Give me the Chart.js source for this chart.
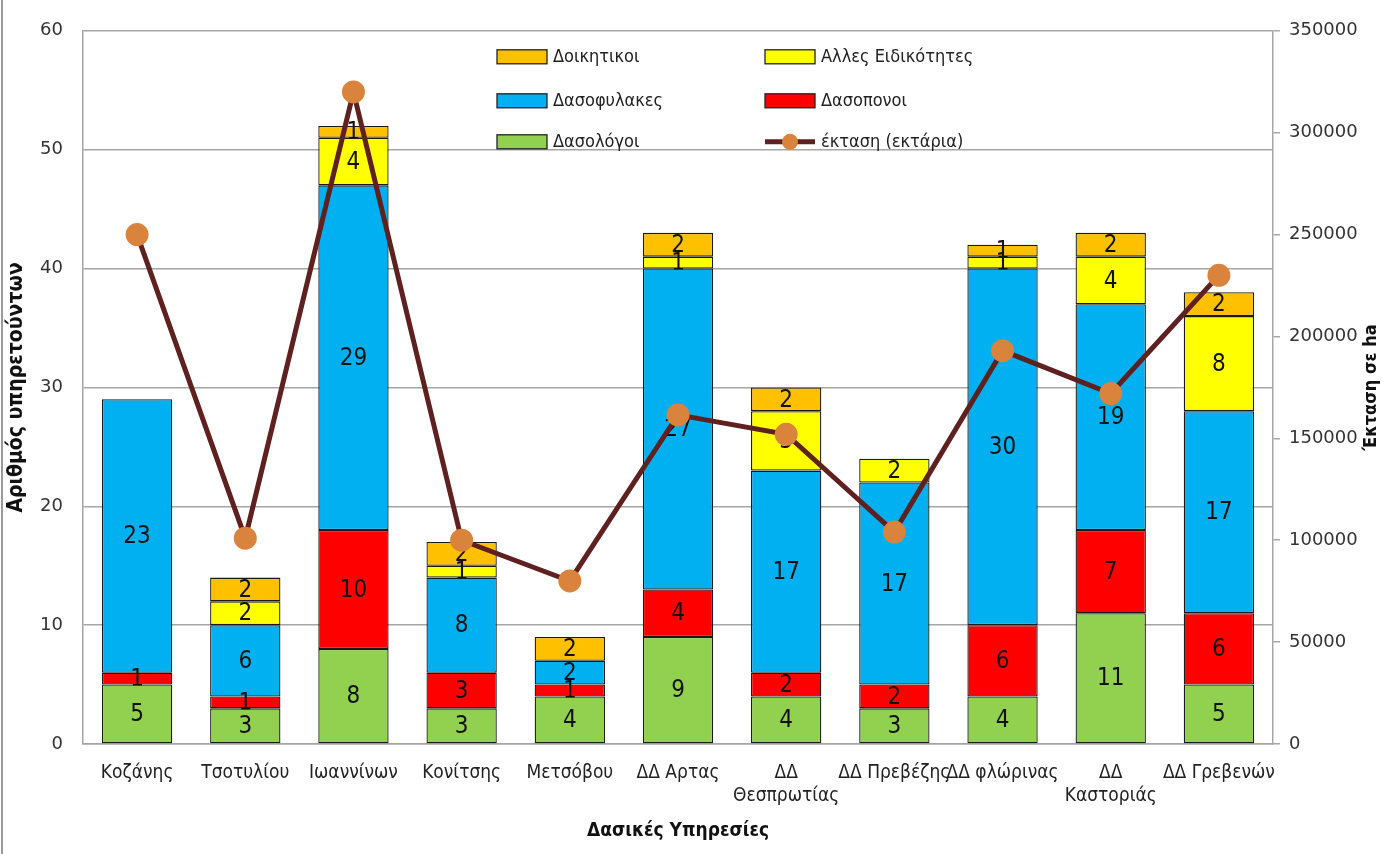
<!DOCTYPE html>
<html>
<head>
<meta charset="utf-8">
<script src="https://cdn.jsdelivr.net/npm/chart.js@4.4.0/dist/chart.umd.min.js"></script>
<style>
  html, body { margin: 0; padding: 0; background: #fff; }
  #wrap { position: relative; width: 1383px; height: 854px; }
  #wrap:before { content: ''; position: absolute; left: 1px; top: 0; bottom: 0; width: 2px; background: #9a9a9a; }
</style>
</head>
<body>
<div id="wrap"><canvas id="chart" width="1383" height="854"></canvas></div>
<script>
// Forest services staff by category, plus forest area (ha)
const categories = ['Κοζάνης', 'Τσοτυλίου', 'Ιωαννίνων', 'Κονίτσης', 'Μετσόβου', 'ΔΔ Αρτας',
  ['ΔΔ', 'Θεσπρωτίας'], 'ΔΔ Πρεβέζης', 'ΔΔ φλώρινας', ['ΔΔ', 'Καστοριάς'], 'ΔΔ Γρεβενών'];

const dasologoi     = [5, 3, 8, 3, 4, 9, 4, 3, 4, 11, 5];
const dasoponoi     = [1, 1, 10, 3, 1, 4, 2, 2, 6, 7, 6];
const dasofylakes   = [23, 6, 29, 8, 2, 27, 17, 17, 30, 19, 17];
const alles         = [0, 2, 4, 1, 0, 1, 5, 2, 1, 4, 8];
const dioikitikoi   = [0, 2, 1, 2, 2, 2, 2, 0, 1, 2, 2];
const ektasi        = [250000, 101000, 320000, 100000, 80000, 161500, 152000, 104000, 193000, 172000, 230000];

const leftTicks = [0, 10, 20, 30, 40, 50, 60];
const rightTicks = [0, 50000, 100000, 150000, 200000, 250000, 300000, 350000];

const NARROW = '"Liberation Sans Narrow", "DejaVu Sans Condensed", "Liberation Sans", sans-serif';
const TICKF = '"DejaVu Sans", sans-serif';

const COLORS = {
  green: '#92d050',
  red: '#ff0000',
  blue: '#00b0f0',
  yellow: '#ffff00',
  orange: '#ffc000',
  line: '#5e2120',
  marker: '#d9833c'
};

function barSet(label, data, color) {
  return {
    type: 'bar',
    label,
    data: data.map(v => v || null),
    backgroundColor: color,
    borderColor: '#1a1a1a',
    borderWidth: 1.3,
    borderSkipped: false,
    stack: 'staff',
    yAxisID: 'y',
    order: 1,
    barPercentage: 0.65,
    categoryPercentage: 1.0
  };
}

// numbers inside each bar segment, drawn before the line
const segmentLabels = {
  id: 'segmentLabels',
  afterDatasetDraw(chart, args) {
    const ds = chart.data.datasets[args.index];
    if (ds.type !== 'bar') return;
    const ctx = chart.ctx;
    ctx.save();
    ctx.font = '24px ' + NARROW;
    ctx.fillStyle = '#111';
    ctx.textAlign = 'center';
    ctx.textBaseline = 'middle';
    args.meta.data.forEach((bar, i) => {
      const v = ds.data[i];
      if (!v) return;
      const p = bar.getProps(['x', 'y', 'base'], true);
      ctx.fillText(String(v), p.x, (p.y + p.base) / 2 + 1);
    });
    ctx.restore();
  }
};

// two-column legend inside the plot
const legendItems = [
  { text: 'Δοικητικοι', color: COLORS.orange, col: 0, row: 0 },
  { text: 'Αλλες Ειδικότητες', color: COLORS.yellow, col: 1, row: 0 },
  { text: 'Δασοφυλακες', color: COLORS.blue, col: 0, row: 1 },
  { text: 'Δασοπονοι', color: COLORS.red, col: 1, row: 1 },
  { text: 'Δασολόγοι', color: COLORS.green, col: 0, row: 2 },
  { text: 'έκταση (εκτάρια)', line: true, col: 1, row: 2 }
];

const insideLegend = {
  id: 'insideLegend',
  afterDraw(chart) {
    const ctx = chart.ctx;
    const a = chart.chartArea;
    const x0 = a.left + 414, colW = 268;
    const rowsY = [a.top + 26, a.top + 70, a.top + 111];
    ctx.save();
    ctx.font = '18px ' + NARROW;
    ctx.textBaseline = 'middle';
    ctx.textAlign = 'left';
    legendItems.forEach(it => {
      const x = x0 + it.col * colW;
      const y = rowsY[it.row];
      if (it.line) {
        ctx.strokeStyle = COLORS.line;
        ctx.lineWidth = 5;
        ctx.beginPath();
        ctx.moveTo(x, y);
        ctx.lineTo(x + 50, y);
        ctx.stroke();
        ctx.fillStyle = COLORS.marker;
        ctx.beginPath();
        ctx.arc(x + 25, y, 8, 0, Math.PI * 2);
        ctx.fill();
      } else {
        ctx.fillStyle = it.color;
        ctx.fillRect(x, y - 7, 50, 14);
        ctx.strokeStyle = '#222';
        ctx.lineWidth = 1.3;
        ctx.strokeRect(x, y - 7, 50, 14);
      }
      ctx.fillStyle = '#222';
      ctx.fillText(it.text, x + 56, y + 1);
    });

    // right axis title, reading bottom to top like the left one
    ctx.translate(1371, (a.top + a.bottom) / 2);
    ctx.rotate(-Math.PI / 2);
    ctx.textAlign = 'center';
    ctx.fillStyle = '#111';
    ctx.font = 'bold 18px ' + NARROW;
    ctx.fillText('Έκταση σε ha', 0, 0);
    ctx.restore();
  }
};

new Chart(document.getElementById('chart'), {
  data: {
    labels: categories,
    datasets: [
      {
        type: 'line',
        label: 'έκταση (εκτάρια)',
        data: ektasi,
        yAxisID: 'y1',
        borderColor: COLORS.line,
        borderWidth: 5,
        pointBackgroundColor: COLORS.marker,
        pointBorderColor: COLORS.marker,
        pointRadius: 9,
        pointHoverRadius: 9,
        tension: 0,
        order: 0
      },
      barSet('Δασολόγοι', dasologoi, COLORS.green),
      barSet('Δασοπονοι', dasoponoi, COLORS.red),
      barSet('Δασοφυλακες', dasofylakes, COLORS.blue),
      barSet('Αλλες Ειδικότητες', alles, COLORS.yellow),
      barSet('Δοικητικοι', dioikitikoi, COLORS.orange)
    ]
  },
  options: {
    responsive: false,
    animation: false,
    devicePixelRatio: 1,
    layout: { padding: { top: 27, left: 0, right: 0, bottom: 0 } },
    plugins: {
      legend: { display: false },
      tooltip: { enabled: false }
    },
    scales: {
      x: {
        stacked: true,
        grid: { display: false, drawTicks: false },
        border: { color: '#a6a6a6', width: 1.5 },
        ticks: {
          color: '#222',
          font: { family: NARROW, size: 19 },
          maxRotation: 0,
          autoSkip: false,
          padding: 18
        },
        title: {
          display: true,
          text: 'Δασικές Υπηρεσίες',
          color: '#111',
          font: { family: NARROW, size: 19, weight: 'bold' },
          padding: { top: 4, bottom: 12 }
        },
        afterFit: s => { s.height = 110; }
      },
      y: {
        stacked: true,
        position: 'left',
        min: 0,
        max: 60,
        afterBuildTicks: s => { s.ticks = leftTicks.map(v => ({ value: v })); },
        grid: { color: '#a6a6a6', lineWidth: 1.5, drawTicks: false },
        border: { color: '#a6a6a6', width: 1.5 },
        ticks: { color: '#333', font: { family: TICKF, size: 18 }, padding: 20 },
        title: {
          display: true,
          text: 'Αριθμός υπηρετούντων',
          color: '#111',
          font: { family: NARROW, size: 21, weight: 'bold' },
          padding: { top: 4, bottom: 2 }
        },
        afterFit: s => { s.width = 83; }
      },
      y1: {
        position: 'right',
        min: 0,
        max: 350000,
        afterBuildTicks: s => { s.ticks = rightTicks.map(v => ({ value: v })); },
        grid: { drawOnChartArea: false, color: '#a6a6a6', lineWidth: 1.5, tickLength: 7 },
        border: { color: '#a6a6a6', width: 1.5 },
        ticks: {
          color: '#333',
          font: { family: TICKF, size: 18 },
          padding: 9,
          callback: v => String(v)
        },
        title: { display: false },
        afterFit: s => { s.width = 110; }
      }
    }
  },
  plugins: [segmentLabels, insideLegend]
});
</script>
</body>
</html>
